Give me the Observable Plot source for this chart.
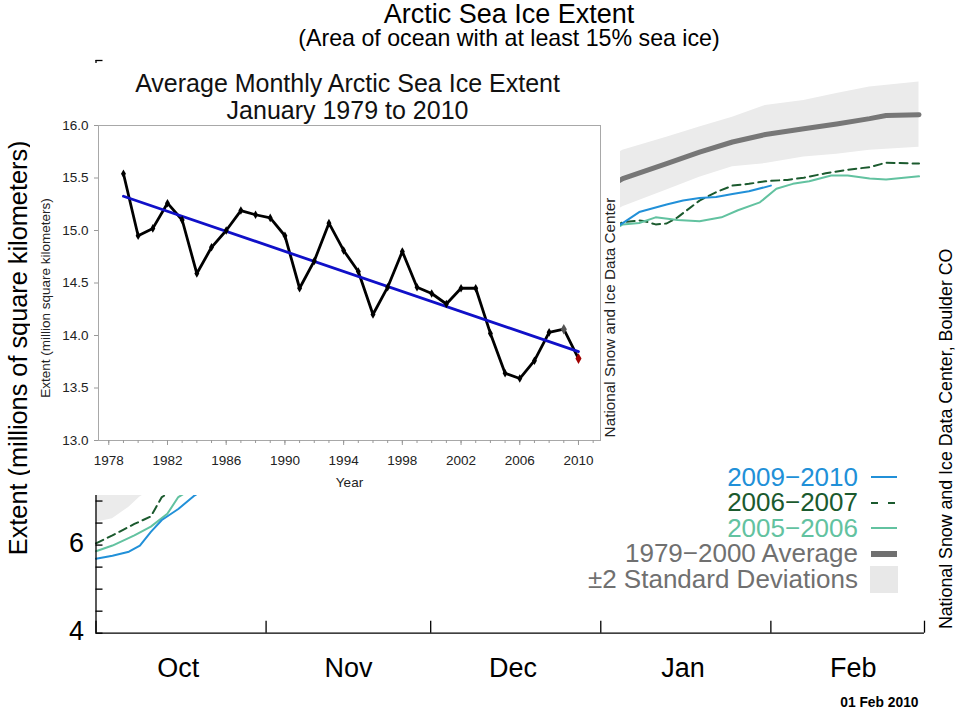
<!DOCTYPE html>
<html><head><meta charset="utf-8">
<script src="https://cdn.jsdelivr.net/npm/d3@7"></script>
<script src="https://cdn.jsdelivr.net/npm/@observablehq/plot@0.6"></script>
<style>
body{margin:0;background:#fff;}
#wrap{position:relative;width:960px;height:709px;overflow:hidden;font-family:"Liberation Sans",Arial,Helvetica,sans-serif;}
.layer{position:absolute;}
#legend{position:absolute;right:102px;top:464.5px;white-space:nowrap;font-size:26px;line-height:25.5px;text-align:right;}
#titles{position:absolute;left:0;top:0;width:1018px;text-align:center;padding-top:3px;white-space:nowrap;}
</style></head><body><div id="wrap"></div>
<script>
// ---------- Inset: average January extent ----------
const years = [1979,1980,1981,1982,1983,1984,1985,1986,1987,1988,1989,1990,1991,1992,1993,1994,
               1995,1996,1997,1998,1999,2000,2001,2002,2003,2004,2005,2006,2007,2008,2009,2010];
const janExtent = [15.54,14.95,15.02,15.26,15.10,14.59,14.84,15.00,15.19,15.15,15.12,14.95,14.45,14.71,15.07,14.81,
                   14.61,14.20,14.46,14.80,14.46,14.40,14.30,14.45,14.45,14.02,13.64,13.59,13.76,14.03,14.06,13.78];
const insetYearLabels = [1978,1982,1986,1990,1994,1998,2002,2006,2010];
const insetYTicks = [13.0,13.5,14.0,14.5,15.0,15.5,16.0];

// ---------- Background: daily extent Oct–Feb ----------
const dates0910 = ["2009-10-01","2009-10-04","2009-10-07","2009-10-09","2009-10-11","2009-10-13","2009-10-16","2009-10-19",
                   "2010-01-05","2010-01-08","2010-01-10","2010-01-13","2010-01-16","2010-01-19","2010-01-22","2010-01-25","2010-01-28","2010-02-01"];
const ext0910 = [5.69,5.76,5.85,5.99,6.30,6.57,6.82,7.13,
                 13.31,13.56,13.63,13.73,13.82,13.88,13.90,13.97,14.03,14.16];
const dates0607 = ["2009-10-01","2009-10-04","2009-10-08","2009-10-11","2009-10-13",
                   "2010-01-05","2010-01-08","2010-01-09","2010-01-11","2010-01-13","2010-01-15","2010-01-19","2010-01-22","2010-01-25",
                   "2010-01-28","2010-01-31","2010-02-04","2010-02-07","2010-02-11","2010-02-15","2010-02-19","2010-02-22","2010-02-28"];
const ext0607 = [6.04,6.22,6.48,6.65,7.09,
                 13.33,13.37,13.35,13.28,13.30,13.44,13.82,14.01,14.16,
                 14.20,14.26,14.29,14.34,14.44,14.52,14.58,14.68,14.66];
const dates0506 = ["2009-10-01","2009-10-04","2009-10-08","2009-10-11","2009-10-14","2009-10-16",
                   "2010-01-05","2010-01-08","2010-01-11","2010-01-15","2010-01-19","2010-01-23","2010-01-26","2010-01-30",
                   "2010-02-02","2010-02-05","2010-02-08","2010-02-12","2010-02-15","2010-02-19","2010-02-22","2010-02-28"];
const ext0506 = [5.86,5.99,6.22,6.42,6.71,7.09,
                 13.28,13.31,13.44,13.38,13.35,13.44,13.60,13.78,
                 14.09,14.20,14.26,14.39,14.39,14.32,14.30,14.37];
const avgDates = ["2009-10-01","2010-01-05","2010-01-13","2010-01-19","2010-01-25","2010-01-31","2010-02-07","2010-02-13","2010-02-19","2010-02-22","2010-02-28"];
const avgExtent = [7.27,14.32,14.66,14.92,15.15,15.32,15.45,15.56,15.68,15.75,15.77];
const sdDates = ["2009-10-01","2009-10-04","2009-10-07","2009-10-09","2010-01-05","2010-01-13","2010-01-19","2010-01-25","2010-01-31","2010-02-07","2010-02-13","2010-02-19","2010-02-28"];
const sdLow  = [6.52,6.60,6.86,7.09,13.68,14.06,14.35,14.59,14.66,14.81,14.87,14.96,15.03];
const sdHigh = [8.00,8.05,8.20,8.35,14.96,15.26,15.49,15.71,15.98,16.09,16.25,16.40,16.51];
const monthStarts = ["2009-10-01","2009-11-01","2009-12-01","2010-01-01","2010-02-01","2010-03-01"];
const monthLabelDates = ["2009-10-16","2009-11-16","2009-12-16","2010-01-16","2010-02-16"];
const yLabelTicks = [4,6];   // the higher labels are hidden behind the inset in the reference

const titleText = "Arctic Sea Ice Extent";
const subtitleText = "(Area of ocean with at least 15% sea ice)";
const legendLabels = ["2009\u22122010","2006\u22122007","2005\u22122006","1979\u22122000 Average","\u00b12 Standard Deviations"];
const legendColors = ["#2190d8","#1b5a2e","#62c2a0","#707070","#707070"];

// ---------- build tables ----------
const FONT = '"Liberation Sans", Arial, Helvetica, sans-serif';
const P = s => new Date(s + "T00:00:00Z");
const jan = years.map((y, i) => ({year: y, ext: janExtent[i]}));
const s0910 = dates0910.map((d, i) => ({date: P(d), v: ext0910[i]}));
const s0607 = dates0607.map((d, i) => ({date: P(d), v: ext0607[i]}));
const s0506 = dates0506.map((d, i) => ({date: P(d), v: ext0506[i]}));
const avg = avgDates.map((d, i) => ({date: P(d), v: avgExtent[i]}));
const sd = sdDates.map((d, i) => ({date: P(d), lo: sdLow[i], hi: sdHigh[i]}));
const mStarts = monthStarts.map(P);
const mLabels = monthLabelDates.map(P);
const x0 = mStarts[0], xEnd = mStarts[mStarts.length - 1];
const minorY = d3.range(4, 17.01, 0.5);
const tickLenDays = 7 / 5.487; // inward tick ~7px
const xTickEnd = new Date(+x0 + tickLenDays * 864e5);
const T = {textAnchor: "middle", lineAnchor: "middle"};

const wrap = document.getElementById("wrap");

const bg = Plot.plot({
  width: 960, height: 709,
  marginLeft: 95.5, marginRight: 36, marginTop: 60, marginBottom: 76.3,
  x: {type: "utc", domain: [x0, xEnd], axis: null},
  y: {domain: [4, 17], axis: null},
  style: {fontFamily: FONT, color: "#000", background: "white", overflow: "visible"},
  marks: [
    Plot.areaY(sd, {x: "date", y1: "lo", y2: "hi", fill: "#ebebeb", curve: "linear"}),
    Plot.line(avg, {x: "date", y: "v", stroke: "#777", strokeWidth: 5}),
    Plot.line(s0607, {x: "date", y: "v", stroke: "#1b5a2e", strokeWidth: 2, strokeDasharray: "8,5"}),
    Plot.line(s0506, {x: "date", y: "v", stroke: "#62c2a0", strokeWidth: 2}),
    Plot.line(s0910, {x: "date", y: "v", stroke: "#2190d8", strokeWidth: 2}),
    // axis lines
    Plot.ruleX([x0], {x: d => d, y1: 4, y2: 17, stroke: "#000", strokeWidth: 1.3}),
    Plot.ruleY([4], {y: d => d, x1: x0, x2: xEnd, stroke: "#000", strokeWidth: 1.3}),
    // inward ticks
    Plot.ruleY(minorY, {y: d => d, x1: () => x0, x2: () => xTickEnd, stroke: "#000", strokeWidth: 1.3}),
    Plot.ruleX(mStarts, {x: d => d, y1: 4, y2: 4 + 12 / 44.05, stroke: "#000", strokeWidth: 1.3}),
    // tick labels
    Plot.text(yLabelTicks, {x: () => x0, y: d => d, text: d => String(d), textAnchor: "end", lineAnchor: "middle", dx: -12, dy: -1.5, fontSize: 27}),
    Plot.text(mLabels, {...T, x: d => d, frameAnchor: "bottom", dy: 35, text: d => d3.utcFormat("%b")(d), fontSize: 27}),
    // notes
    Plot.text(["Extent (millions of square kilometers)"], {...T, frameAnchor: "left", rotate: -90, dx: -77.5, dy: 1, text: d => d, fontSize: 25.3}),
    Plot.text(["01 Feb 2010"], {frameAnchor: "bottom-right", textAnchor: "end", lineAnchor: "middle", dx: -6, dy: 69, text: d => d, fontSize: 13.8, fontWeight: "bold"}),
    Plot.text(["National Snow and Ice Data Center, Boulder CO"], {...T, frameAnchor: "right", rotate: -90, dx: 22, dy: 92, text: d => d, fontSize: 17.8})
  ]
});
const bgDiv = document.createElement("div");
bgDiv.className = "layer"; bgDiv.style.left = "0px"; bgDiv.style.top = "0px";
bgDiv.appendChild(bg);
wrap.appendChild(bgDiv);

// title block (one element)
const titles = document.createElement("div");
titles.id = "titles";
const t1 = document.createElement("div");
t1.style.cssText = "font-size:27px;line-height:23.5px;";
t1.textContent = titleText;
const t2 = document.createElement("div");
t2.style.cssText = "font-size:23.2px;line-height:22px;";
t2.textContent = subtitleText;
titles.appendChild(t1); titles.appendChild(t2);
wrap.appendChild(titles);

// legend text block (one element) + swatches
const legend = document.createElement("div");
legend.id = "legend";
legendLabels.forEach((lab, i) => {
  if (i) legend.appendChild(document.createElement("br"));
  const s = document.createElement("span");
  s.style.color = legendColors[i];
  s.textContent = lab;
  legend.appendChild(s);
});
wrap.appendChild(legend);
const ns = "http://www.w3.org/2000/svg";
legendLabels.forEach((lab, i) => {
  const cy = 477 + 25.5 * i;
  const sw = document.createElementNS(ns, "svg");
  sw.setAttribute("width", 32); sw.setAttribute("height", 30);
  sw.setAttribute("class", "layer");
  sw.style.left = "868px"; sw.style.top = (cy - 15) + "px";
  if (i === 4) {
    const r = document.createElementNS(ns, "rect");
    r.setAttribute("x", 2); r.setAttribute("y", 2); r.setAttribute("width", 28); r.setAttribute("height", 27);
    r.setAttribute("fill", "#e8e8e8");
    sw.appendChild(r);
  } else {
    const l = document.createElementNS(ns, "line");
    l.setAttribute("x1", 3); l.setAttribute("x2", 29); l.setAttribute("y1", 15); l.setAttribute("y2", 15);
    l.setAttribute("stroke", legendColors[i]);
    l.setAttribute("stroke-width", i === 3 ? 6 : 2);
    if (i === 1) l.setAttribute("stroke-dasharray", "7,10");
    sw.appendChild(l);
  }
  wrap.appendChild(sw);
});

// ---------- inset ----------
const inset = Plot.plot({
  width: 590, height: 432,
  marginLeft: 68, marginRight: 20, marginTop: 62, marginBottom: 55,
  x: {domain: [1977.3, 2011.5], axis: null},
  y: {domain: [13, 16], axis: null},
  style: {fontFamily: FONT, fontSize: "13px", color: "#222", background: "white", overflow: "visible"},
  marks: [
    Plot.frame({stroke: "#a8a8a8"}),
    Plot.axisY({ticks: insetYTicks, tickFormat: ".1f", tickSize: 4, tickPadding: 6, fontSize: 13.5, stroke: "#999", label: null}),
    Plot.axisX({ticks: insetYearLabels, tickFormat: "d", tickSize: 5, tickPadding: 10, fontSize: 13.5, stroke: "#999", label: null}),
    Plot.axisX({ticks: years.concat([1978, 2011]), tickFormat: () => "", tickSize: 3, stroke: "#999", label: null}),
    Plot.line(jan, {x: "year", y: "ext", stroke: "#000", strokeWidth: 2.8}),
    Plot.linearRegressionY(jan, {x: "year", y: "ext", stroke: "#1010c8", strokeWidth: 2.8, ci: 0}),
    Plot.dot(jan, {filter: d => d.year < 2009, x: "year", y: "ext", symbol: "diamond", r: 2.6, fill: "#000"}),
    Plot.dot(jan, {filter: d => d.year === 2009, x: "year", y: "ext", symbol: "diamond", r: 3.2, fill: "#555"}),
    Plot.dot(jan, {filter: d => d.year === 2010, x: "year", y: "ext", symbol: "diamond", r: 3.2, fill: "#a00000"}),
    Plot.text(["Average Monthly Arctic Sea Ice Extent\nJanuary 1979 to 2010"], {...T, frameAnchor: "top", dx: -2, dy: -28.5, text: d => d, fontSize: 25, lineHeight: 1.08, fill: "#111"}),
    Plot.text(["Year"], {...T, frameAnchor: "bottom", dy: 42, text: d => d, fontSize: 13.5}),
    Plot.text(["Extent (million square kilometers)"], {...T, frameAnchor: "left", rotate: -90, dx: -53, dy: 15, text: d => d, fontSize: 13.5}),
    Plot.text(["National Snow and Ice Data Center"], {...T, frameAnchor: "right", rotate: -90, dx: 10, dy: 34.5, text: d => d, fontSize: 15.3})
  ]
});
const inDiv = document.createElement("div");
inDiv.className = "layer"; inDiv.style.left = "30px"; inDiv.style.top = "63px";
inDiv.appendChild(inset);
wrap.appendChild(inDiv);
</script>
</body></html>
